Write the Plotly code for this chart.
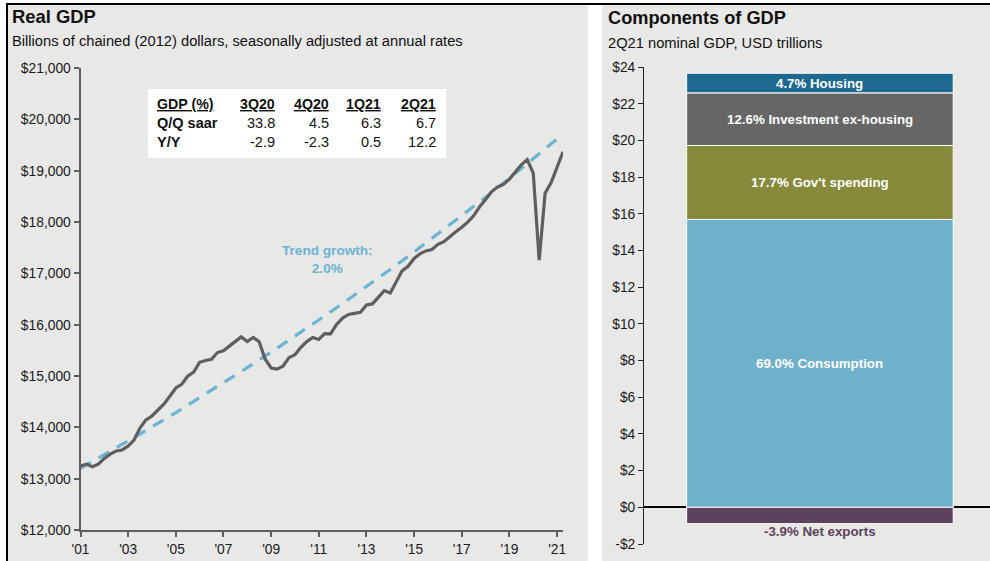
import plotly.graph_objects as go
import pandas as pd

# ---------------- data ----------------
gdp_start = "2001-01-01"
real_gdp = [
    13248, 13284, 13232, 13283,
    13394, 13478, 13539, 13559,
    13634, 13752, 13985, 14145,
    14221, 14330, 14452, 14605,
    14767, 14839, 14996, 15075,
    15268, 15302, 15327, 15457,
    15493, 15582, 15666, 15762,
    15671, 15752, 15667, 15328,
    15156, 15134, 15190, 15357,
    15415, 15558, 15671, 15751,
    15713, 15825, 15821, 16004,
    16129, 16198, 16220, 16240,
    16383, 16404, 16532, 16663,
    16616, 16842, 17048, 17138,
    17290, 17381, 17437, 17464,
    17565, 17618, 17725, 17812,
    17897, 17997, 18121, 18297,
    18437, 18587, 18680, 18733,
    18835, 18962, 19112, 19216,
    18952, 17258, 18560, 18768,
    19056, 19368,
]
trend_dates = ["2001-01-01", "2002-01-01", "2003-01-01", "2004-01-01", "2005-01-01",
               "2006-01-01", "2007-01-01", "2008-01-01", "2009-01-01", "2010-01-01",
               "2011-01-01", "2012-01-01", "2013-01-01", "2014-01-01", "2015-01-01",
               "2016-01-01", "2017-01-01", "2018-01-01", "2019-01-01", "2020-01-01",
               "2021-01-01", "2021-04-01"]
trend_values = [13200, 13464, 13733, 14008, 14288, 14574, 14865, 15163, 15466, 15775,
                16091, 16413, 16741, 17076, 17417, 17766, 18121, 18483, 18853, 19230,
                19615, 19712]

x_tick_vals = ["2001-01-01", "2003-01-01", "2005-01-01", "2007-01-01", "2009-01-01",
               "2011-01-01", "2013-01-01", "2015-01-01", "2017-01-01", "2019-01-01",
               "2021-01-01"]
x_tick_text = ["'01", "'03", "'05", "'07", "'09", "'11", "'13", "'15", "'17", "'19", "'21"]
y_tick_vals = [12000, 13000, 14000, 15000, 16000, 17000, 18000, 19000, 20000, 21000]
y_tick_text = ["$12,000", "$13,000", "$14,000", "$15,000", "$16,000", "$17,000",
               "$18,000", "$19,000", "$20,000", "$21,000"]

table_header = ["GDP (%)", "3Q20", "4Q20", "1Q21", "2Q21"]
table_rows = ["Q/Q saar", "Y/Y"]
table_qq = ["33.8", "4.5", "6.3", "6.7"]
table_yy = ["-2.9", "-2.3", "0.5", "12.2"]

comp_names = ["Consumption", "Gov't spending", "Investment ex-housing", "Housing", "Net exports"]
comp_pct = ["69.0%", "17.7%", "12.6%", "4.7%", "-3.9%"]
comp_values = [15.69, 4.03, 2.87, 1.07, -0.89]
comp_colors = ["#6FB1CB", "#878A3B", "#666666", "#1E6990", "#5D4260"]
comp_text_colors = ["white", "white", "white", "white", "#5D4260"]
right_tick_vals = [-2, 0, 2, 4, 6, 8, 10, 12, 14, 16, 18, 20, 22, 24]
right_tick_text = ["-$2", "$0", "$2", "$4", "$6", "$8", "$10", "$12", "$14", "$16",
                   "$18", "$20", "$22", "$24"]

# ---------------- helpers ----------------
W, H = 990, 561
FONT = "Liberation Sans, Arial, sans-serif"
PANEL = "#E8E8E7"


def px(x):
    return x / W


def py(y):
    return 1 - y / H


dates = pd.date_range(start=gdp_start, periods=len(real_gdp), freq="QS")

fig = go.Figure()

fig.add_trace(go.Scatter(
    x=trend_dates, y=trend_values, mode="lines",
    line=dict(color="#6DB4D3", width=3.2, dash="12px,9px"),
    xaxis="x", yaxis="y", hoverinfo="skip", showlegend=False,
))
fig.add_trace(go.Scatter(
    x=dates, y=real_gdp, mode="lines",
    line=dict(color="#5F5F5F", width=3.2),
    xaxis="x", yaxis="y", showlegend=False,
))

for name, val, col in zip(comp_names, comp_values, comp_colors):
    fig.add_trace(go.Bar(
        x=[0], y=[val], width=1, name=name,
        marker=dict(color=col, line=dict(color="white", width=1)),
        xaxis="x2", yaxis="y2", showlegend=False,
    ))

# ---------------- shapes ----------------
shapes = [
    dict(type="rect", xref="paper", yref="paper", x0=px(8), x1=px(588), y0=0, y1=py(5),
         fillcolor=PANEL, line=dict(width=0), layer="below"),
    dict(type="rect", xref="paper", yref="paper", x0=px(602), x1=1, y0=0, y1=py(5),
         fillcolor=PANEL, line=dict(width=0), layer="below"),
    dict(type="line", xref="paper", yref="paper", x0=px(6), x1=1, y0=py(4), y1=py(4),
         line=dict(color="black", width=2)),
    dict(type="line", xref="paper", yref="paper", x0=px(7), x1=px(7), y0=0, y1=py(4),
         line=dict(color="black", width=2)),
    # table box
    dict(type="rect", xref="paper", yref="paper", x0=px(148), x1=px(446), y0=py(158), y1=py(89),
         fillcolor="white", line=dict(width=0)),
]

# ---------------- annotations ----------------
ann = []


def text(x, y, s, size=13, color="#111111", xanchor="left", bold=False):
    if bold:
        s = "<b>" + s + "</b>"
    ann.append(dict(xref="paper", yref="paper", x=px(x), y=py(y), text=s, showarrow=False,
                    xanchor=xanchor, yanchor="middle", borderpad=0,
                    font=dict(family=FONT, size=size, color=color)))


text(11, 17, "Real GDP", size=18.4, bold=True)
text(11, 41, "Billions of chained (2012) dollars, seasonally adjusted at annual rates", size=14.7)
text(607, 18, "Components of GDP", size=18.2, bold=True)
text(607, 43, "2Q21 nominal GDP, USD trillions", size=14.7)

# table
col_right = [276, 330, 382, 437]
text(156, 104, "<u>" + table_header[0] + "</u>", size=14.2, bold=True)
for cx, h in zip(col_right, table_header[1:]):
    text(cx, 104, "<u>" + h + "</u>", size=14.2, bold=True, xanchor="right")
text(156, 123, table_rows[0], size=14.5, bold=True)
text(156, 142, table_rows[1], size=14.5, bold=True)
for cx, v in zip(col_right, table_qq):
    text(cx, 123, v, size=14.5, xanchor="right")
for cx, v in zip(col_right, table_yy):
    text(cx, 142, v, size=14.5, xanchor="right")

# trend label
text(327, 260, "Trend growth:<br>2.0%", size=13.6, color="#6DB4D3", xanchor="center", bold=True)

# bar labels
cum = 0
for name, pct, val, tcol in zip(comp_names, comp_pct, comp_values, comp_text_colors):
    if val >= 0:
        ymid = cum + val / 2
        cum += val
        ann.append(dict(xref="x2", yref="y2", x=0, y=ymid, text="<b>" + pct + " " + name + "</b>",
                        showarrow=False, xanchor="center", yanchor="middle",
                        font=dict(family=FONT, size=13.3, color=tcol)))
    else:
        ann.append(dict(xref="x2", yref="y2", x=0, y=val, text="<b>" + pct + " " + name + "</b>",
                        showarrow=False, xanchor="center", yanchor="top", yshift=2,
                        font=dict(family=FONT, size=13.3, color=tcol)))

axis_font = dict(family=FONT, size=13.8, color="#1A1A1A")

fig.update_layout(
    width=W, height=H,
    autosize=False,
    margin=dict(l=0, r=0, t=0, b=0, pad=0, autoexpand=False),
    paper_bgcolor="white",
    plot_bgcolor="rgba(0,0,0,0)",
    barmode="relative",
    shapes=shapes,
    annotations=ann,
    xaxis=dict(
        domain=[px(80.5), px(563)], type="date",
        range=["2001-01-01", "2021-04-01"],
        tickvals=x_tick_vals, ticktext=x_tick_text,
        showgrid=False, zeroline=False, automargin=False,
        showline=True, linecolor="#5F5F5F", linewidth=2,
        ticks="outside", ticklen=5, tickcolor="#5F5F5F", tickwidth=1.5,
        tickfont=axis_font, anchor="y",
    ),
    yaxis=dict(
        domain=[py(530), py(68)],
        range=[12000, 21000],
        tickvals=y_tick_vals, ticktext=y_tick_text,
        showgrid=False, zeroline=False, automargin=False,
        showline=True, linecolor="#5F5F5F", linewidth=2,
        ticks="outside", ticklen=5, tickcolor="#5F5F5F", tickwidth=1.5,
        tickfont=axis_font, anchor="x",
    ),
    xaxis2=dict(
        domain=[px(644), 1], range=[-0.66, 0.638],
        showgrid=False, zeroline=False, showline=False, showticklabels=False,
        automargin=False, anchor="y2",
    ),
    yaxis2=dict(
        domain=[py(544), py(67)], range=[-2, 24],
        tickvals=right_tick_vals, ticktext=right_tick_text,
        showgrid=False, zeroline=True, zerolinecolor="black", zerolinewidth=1.5,
        showline=True, linecolor="#222222", linewidth=1,
        ticks="outside", ticklen=5, tickcolor="#222222", tickwidth=1,
        tickfont=axis_font, automargin=False, anchor="x2",
    ),
)

fig.write_html(
    "out.html",
    config={"displayModeBar": False},
    post_script="document.body.style.margin='0';document.body.style.overflow='hidden';",
)
